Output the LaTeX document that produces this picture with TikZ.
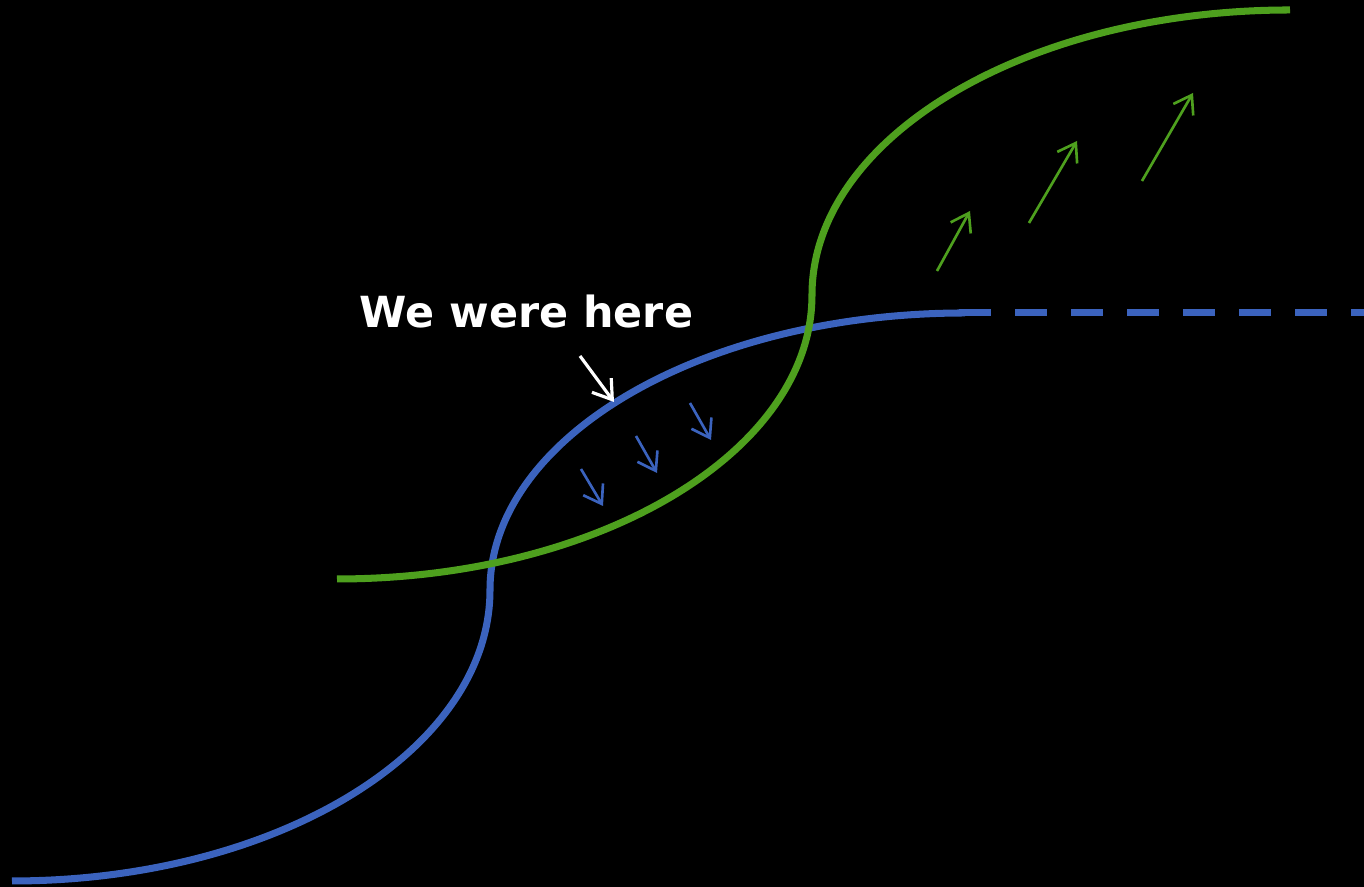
\documentclass[tikz,border=0pt]{standalone}
\usepackage{fontspec}
\setmainfont{DejaVu Sans}
\usetikzlibrary{arrows.meta}
\definecolor{curveblue}{RGB}{59,99,190}
\definecolor{curvegreen}{RGB}{78,160,30}
\tikzset{bluecurve/.style={draw=curveblue, line width=2pt},
greencurve/.style={draw=curvegreen, line width=2pt},
shiftarrow/.style={line width=0.75pt, -{Straight Barb[length=1.7mm, width=2.3mm]}},
}

\begin{document}
\begin{tikzpicture}
            \fill[black] (0,0) rectangle (13.64,8.87);
            \useasboundingbox (0,0) rectangle (13.64,8.87);
            % old curve
            \coordinate (b0) at (0.12,0.06);
            \coordinate (bend) at (9.59,5.74);
            \coordinate (bout) at (13.64,5.74);
            \draw[bluecurve] (b0) arc[start angle=270, end angle=360, x radius=4.78, y radius=2.91]
                arc[start angle=180, end angle=90, x radius=4.75, y radius=2.77] -- (bend);
            \draw[bluecurve, dash pattern=on 0.32cm off 0.24cm] (bend) -- (bout);
            % new curve
            \coordinate (g0) at (3.37,3.08);
            \draw[greencurve] (g0) arc[start angle=270, end angle=360, x radius=4.75, y radius=2.84]
                arc[start angle=180, end angle=90, x radius=4.78, y radius=2.85];
            % label
            \node[text=white, font=\fontsize{12.2pt}{14pt}\selectfont\bfseries, anchor=base] (here) at (5.265,5.59) {We were here};
            \coordinate (w0) at (5.80,5.31);
            \coordinate (w1) at (6.14,4.85);
            \draw[white, line width=0.9pt, -{Straight Barb[length=1.8mm, width=2.4mm]}] (w0) -- (w1);
            % arrows
            \foreach \i/\xa/\ya/\xb/\yb in {1/5.81/4.18/6.03/3.81, 2/6.36/4.51/6.57/4.14, 3/6.90/4.84/7.11/4.47}{
                \coordinate (bs\i) at (\xa,\ya);
                \coordinate (be\i) at (\xb,\yb);
                \draw[shiftarrow, curveblue] (bs\i) -- (be\i);
            }
            \foreach \i/\xa/\ya/\xb/\yb in {1/9.37/6.16/9.70/6.76, 2/10.29/6.64/10.77/7.46, 3/11.42/7.06/11.93/7.94}{
                \coordinate (gs\i) at (\xa,\ya);
                \coordinate (ge\i) at (\xb,\yb);
                \draw[shiftarrow, curvegreen] (gs\i) -- (ge\i);
            }
        \end{tikzpicture}
\end{document}
